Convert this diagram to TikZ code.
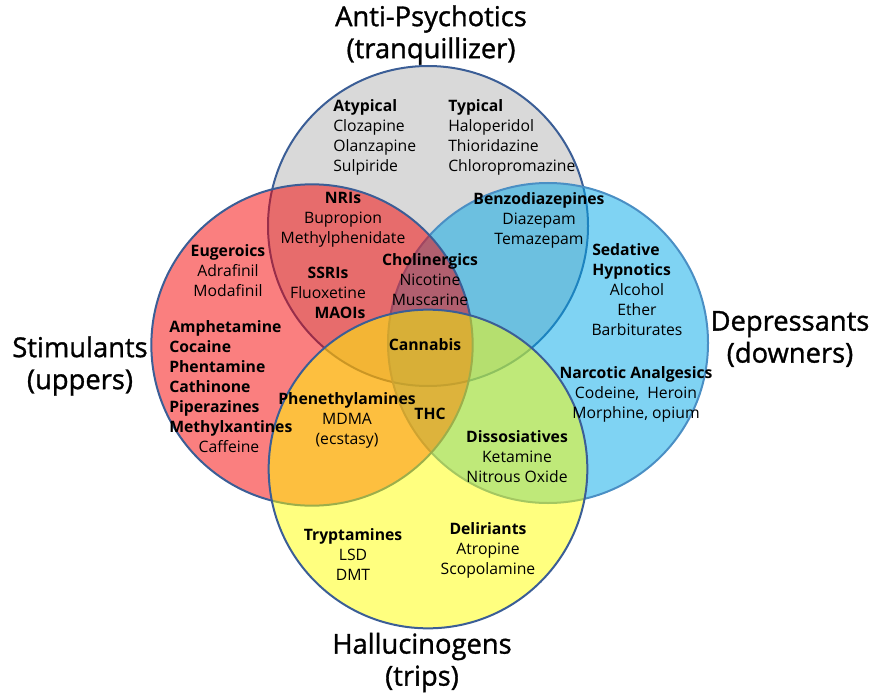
\documentclass[tikz,border=0pt]{standalone}
\usepackage{fontspec}
\setmainfont{Open Sans}
\newfontfamily\titlefont{Open Sans}[FakeBold=1.2]
\definecolor{ringline}{HTML}{3B5E96}
\definecolor{ringlight}{HTML}{4A8FC4}
\definecolor{grayfill}{HTML}{D9D9D9}
\definecolor{bluefill}{HTML}{00A8E8}
\definecolor{redfill}{HTML}{F60000}
\definecolor{yellowfill}{HTML}{FFFF00}
\tikzset{
  ring/.style={draw=ringline, line width=1.5pt},
  lbl/.style={align=center, inner sep=0pt, font=\fontsize{11.8}{15}\selectfont},
  lbll/.style={lbl, align=left, anchor=west},
  ttl/.style={align=center, inner sep=0pt, font=\titlefont\fontsize{20.5}{24}\selectfont},
}
\begin{document}
\begin{tikzpicture}[x=0.75pt, y=-0.75pt]
		\useasboundingbox (0,0) rectangle (873,695);
		
		% the four classes
		\filldraw[ring, fill=grayfill] (428,226) circle [radius=120pt];
		\filldraw[ring, draw=ringlight, fill=bluefill, fill opacity=0.5] (548,343) circle [radius=120pt];
		\filldraw[ring, fill=redfill, fill opacity=0.5] (312,345) circle [radius=120.5pt];
		\filldraw[ring, fill=yellowfill, fill opacity=0.5] (428,469) circle [radius=119.5pt];
		
		\node[ttl] (apsy)  at (431,35)    {Anti-Psychotics\\(tranquillizer)};
		\node[ttl] (stim)  at (80,366)    {Stimulants\\(uppers)};
		\node[ttl] (depr)  at (790,339)   {Depressants\\(downers)};
		\node[ttl] (hallu) at (422,662.5) {Hallucinogens\\(trips)};
		
		% anti-psychotics
		\node[lbll] (atyp) at (333,137) {\textbf{Atypical}\\Clozapine\\Olanzapine\\Sulpiride};
		\node[lbll] (typ)  at (448,137) {\textbf{Typical}\\Haloperidol\\Thioridazine\\Chloropromazine};
		
		% stimulants
		\node[lbl] (nri)    at (343,220) {\textbf{NRIs}\\Bupropion\\Methylphenidate};
		\node[lbl] (ssri)   at (328,283) {\textbf{SSRIs}\\Fluoxetine};
		\node[lbl] (maoi)   at (340,313) {\textbf{MAOIs}};
		\node[lbl] (eugero) at (228,271) {\textbf{Eugeroics}\\Adrafinil\\Modafinil};
		\node[lbll, font=\fontsize{11.8}{15}\selectfont\bfseries] (amph) at (169,378)
			{Amphetamine\\Cocaine\\Phentamine\\Cathinone\\Piperazines\\Methylxantines};
		\node[lbl] (caff)   at (229,447) {Caffeine};
		\node[lbl] (choli)  at (430,280) {\textbf{Cholinergics}\\Nicotine\\Muscarine};
		
		% depressants
		\node[lbl] (benzo)   at (539,220) {\textbf{Benzodiazepines}\\Diazepam\\Temazepam};
		\node[lbll, font=\fontsize{11.8}{15}\selectfont\bfseries] (sedat) at (592,261) {Sedative\\Hypnotics};
		\node[lbl] (sedlist) at (637,310) {Alcohol\\Ether\\Barbiturates};
		\node[lbl] (narco)   at (636,394) {\textbf{Narcotic Analgesics}\\Codeine,~~Heroin\\Morphine, opium};
		
		% hallucinogens
		\node[lbl, font=\fontsize{11.8}{15}\selectfont\bfseries] (cannab) at (425,345) {Cannabis};
		\node[lbl] (phenet) at (347,420) {\textbf{Phenethylamines}\\MDMA\\(ecstasy)};
		\node[lbl, font=\fontsize{11.8}{15}\selectfont\bfseries] (thc) at (430,414) {THC};
		\node[lbl] (dissoc) at (517,457) {\textbf{Dissosiatives}\\Ketamine\\Nitrous Oxide};
		\node[lbl] (trypt)  at (353,555) {\textbf{Tryptamines}\\LSD\\DMT};
		\node[lbl] (delir)  at (488,550) {\textbf{Deliriants}\\Atropine\\Scopolamine};
\end{tikzpicture}
\end{document}
